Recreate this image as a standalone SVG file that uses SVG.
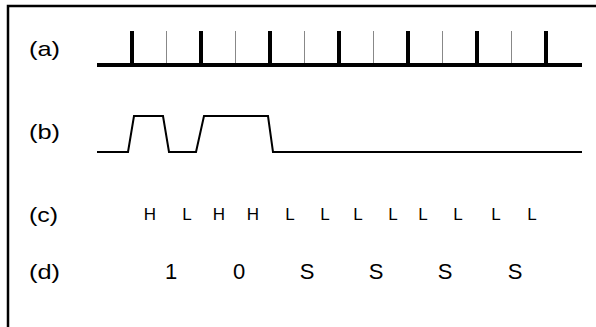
<svg xmlns="http://www.w3.org/2000/svg" width="596" height="327" viewBox="0 0 596 327">
<style>
text{font-family:"Liberation Sans",Arial,sans-serif;fill:#000}
.lbl{font-size:21px}
.hl{font-size:17px;text-anchor:middle}
.bit{font-size:22px;text-anchor:middle}
.thick{stroke:#000;stroke-width:4}
.thin{stroke:#888;stroke-width:1}
</style>
<rect width="596" height="327" fill="#fff"/>
<g id="frame"><path d="M8 330 V6 H600" fill="none" stroke="#000" stroke-width="2.5"/></g>
<g id="labels">
<text class="lbl" x="29" y="56" textLength="31" lengthAdjust="spacingAndGlyphs">(a)</text>
<text class="lbl" x="29" y="139" textLength="31" lengthAdjust="spacingAndGlyphs">(b)</text>
<text class="lbl" x="29" y="222" textLength="29" lengthAdjust="spacingAndGlyphs">(c)</text>
<text class="lbl" x="29" y="279" textLength="31" lengthAdjust="spacingAndGlyphs">(d)</text>
</g>
<g id="clock">
<line class="thick" x1="97" y1="65" x2="582" y2="65"/>
<line class="thick" x1="132" y1="31" x2="132" y2="65"/>
<line class="thick" x1="201" y1="31" x2="201" y2="65"/>
<line class="thick" x1="270" y1="31" x2="270" y2="65"/>
<line class="thick" x1="339" y1="31" x2="339" y2="65"/>
<line class="thick" x1="408" y1="31" x2="408" y2="65"/>
<line class="thick" x1="477" y1="31" x2="477" y2="65"/>
<line class="thick" x1="546" y1="31" x2="546" y2="65"/>
<line class="thin" x1="166.5" y1="31" x2="166.5" y2="63"/>
<line class="thin" x1="235.5" y1="31" x2="235.5" y2="63"/>
<line class="thin" x1="304.5" y1="31" x2="304.5" y2="63"/>
<line class="thin" x1="373.5" y1="31" x2="373.5" y2="63"/>
<line class="thin" x1="442.5" y1="31" x2="442.5" y2="63"/>
<line class="thin" x1="511.5" y1="31" x2="511.5" y2="63"/>
</g>
<g id="wave">
<polyline points="97,152 128,152 134,116 163,116 169,152 196,152 204,116 268,116 273,152 582,152" fill="none" stroke="#000" stroke-width="2"/>
</g>
<g id="levels">
<text class="hl" x="150" y="220">H</text>
<text class="hl" x="187" y="220">L</text>
<text class="hl" x="219" y="220">H</text>
<text class="hl" x="253" y="220">H</text>
<text class="hl" x="290" y="220">L</text>
<text class="hl" x="325" y="220">L</text>
<text class="hl" x="358" y="220">L</text>
<text class="hl" x="393" y="220">L</text>
<text class="hl" x="423" y="220">L</text>
<text class="hl" x="458" y="220">L</text>
<text class="hl" x="496" y="220">L</text>
<text class="hl" x="532" y="220">L</text>
</g>
<g id="bits">
<text class="bit" x="171" y="279">1</text>
<text class="bit" x="239" y="279">0</text>
<text class="bit" x="307" y="279">S</text>
<text class="bit" x="376" y="279">S</text>
<text class="bit" x="445" y="279">S</text>
<text class="bit" x="515" y="279">S</text>
</g>
</svg>
